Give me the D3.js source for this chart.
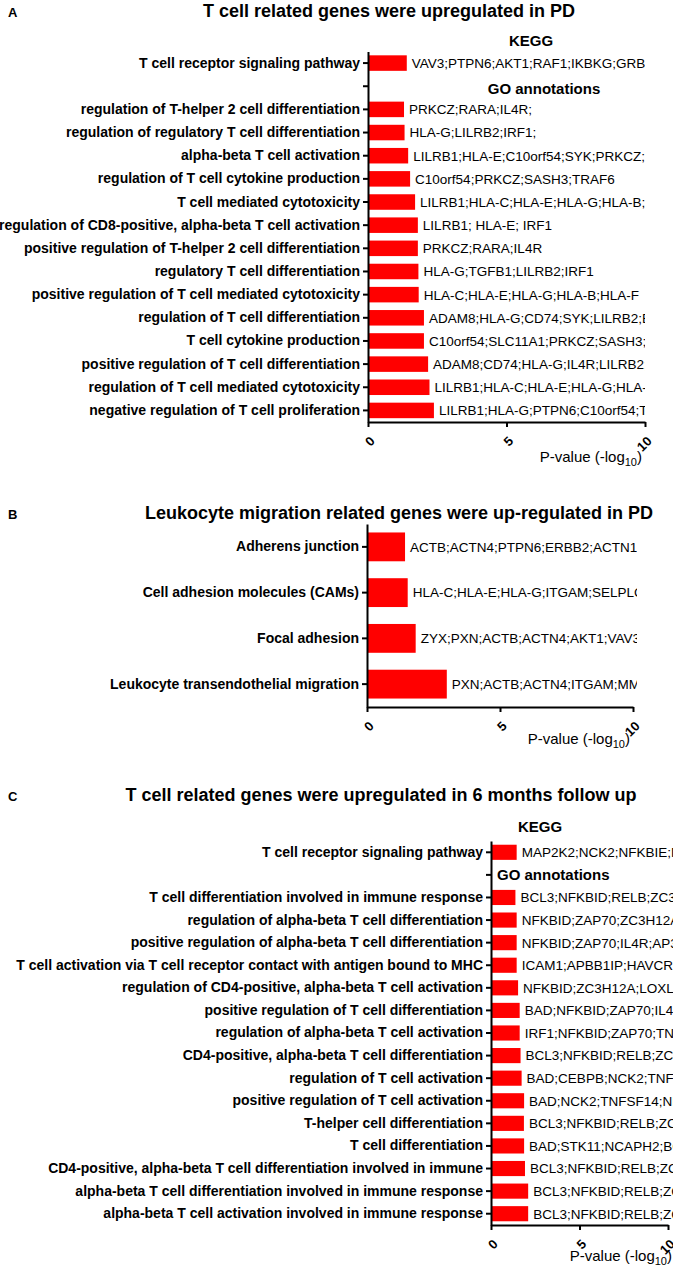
<!DOCTYPE html>
<html>
<head>
<meta charset="utf-8">
<script src="https://cdn.jsdelivr.net/npm/d3@7"></script>
<style>
  body { margin: 0; background: #fff; }
  svg text { font-family: "Liberation Sans", Arial, sans-serif; fill: #000; }
  .axis path, .axis line { stroke: #000; stroke-width: 2; }
  .axis text { font-size: 14px; font-weight: bold; }
</style>
</head>
<body>
<div id="chart"></div>
<script>
// ---- data ----
var titleA = "T cell related genes were upregulated in PD";
var termsA = [
  "T cell receptor signaling pathway",
  "",
  "regulation of T-helper 2 cell differentiation",
  "regulation of regulatory T cell differentiation",
  "alpha-beta T cell activation",
  "regulation of T cell cytokine production",
  "T cell mediated cytotoxicity",
  "regulation of CD8-positive, alpha-beta T cell activation",
  "positive regulation of T-helper 2 cell differentiation",
  "regulatory T cell differentiation",
  "positive regulation of T cell mediated cytotoxicity",
  "regulation of T cell differentiation",
  "T cell cytokine production",
  "positive regulation of T cell differentiation",
  "regulation of T cell mediated cytotoxicity",
  "negative regulation of T cell proliferation"
];
var valuesA = [1.40, null, 1.30, 1.32, 1.45, 1.52, 1.70, 1.80, 1.80, 1.82, 1.83, 2.02, 2.02, 2.17, 2.22, 2.38];
var genesA = [
  "VAV3;PTPN6;AKT1;RAF1;IKBKG;GRB2",
  "",
  "PRKCZ;RARA;IL4R;",
  "HLA-G;LILRB2;IRF1;",
  "LILRB1;HLA-E;C10orf54;SYK;PRKCZ;S",
  "C10orf54;PRKCZ;SASH3;TRAF6",
  "LILRB1;HLA-C;HLA-E;HLA-G;HLA-B;H",
  "LILRB1; HLA-E; IRF1",
  "PRKCZ;RARA;IL4R",
  "HLA-G;TGFB1;LILRB2;IRF1",
  "HLA-C;HLA-E;HLA-G;HLA-B;HLA-F",
  "ADAM8;HLA-G;CD74;SYK;LILRB2;E",
  "C10orf54;SLC11A1;PRKCZ;SASH3;T",
  "ADAM8;CD74;HLA-G;IL4R;LILRB2;I",
  "LILRB1;HLA-C;HLA-E;HLA-G;HLA-B",
  "LILRB1;HLA-G;PTPN6;C10orf54;TG"
];

var titleB = "Leukocyte migration related genes were up-regulated in PD";
var termsB = [
  "Adherens junction",
  "Cell adhesion molecules (CAMs)",
  "Focal adhesion",
  "Leukocyte transendothelial migration"
];
var valuesB = [1.43, 1.53, 1.83, 3.0];
var genesB = [
  "ACTB;ACTN4;PTPN6;ERBB2;ACTN1;I",
  "HLA-C;HLA-E;HLA-G;ITGAM;SELPLG;H",
  "ZYX;PXN;ACTB;ACTN4;AKT1;VAV3;I",
  "PXN;ACTB;ACTN4;ITGAM;MMP9"
];

var titleC = "T cell related genes were upregulated in 6 months follow up";
var termsC = [
  "T cell receptor signaling pathway",
  "",
  "T cell differentiation involved in immune response",
  "regulation of alpha-beta T cell differentiation",
  "positive regulation of alpha-beta T cell differentiation",
  "T cell activation via T cell receptor contact with antigen bound to MHC",
  "regulation of CD4-positive, alpha-beta T cell activation",
  "positive regulation of T cell differentiation",
  "regulation of alpha-beta T cell activation",
  "CD4-positive, alpha-beta T cell differentiation",
  "regulation of T cell activation",
  "positive regulation of T cell activation",
  "T-helper cell differentiation",
  "T cell differentiation",
  "CD4-positive, alpha-beta T cell differentiation involved in immune",
  "alpha-beta T cell differentiation involved in immune response",
  "alpha-beta T cell activation involved in immune response"
];
var valuesC = [1.45, null, 1.38, 1.45, 1.45, 1.45, 1.53, 1.62, 1.62, 1.67, 1.73, 1.87, 1.86, 1.87, 1.92, 2.10, 2.10];
var genesC = [
  "MAP2K2;NCK2;NFKBIE;M",
  "",
  "BCL3;NFKBID;RELB;ZC3H12A",
  "NFKBID;ZAP70;ZC3H12A",
  "NFKBID;ZAP70;IL4R;AP3",
  "ICAM1;APBB1IP;HAVCR2",
  "NFKBID;ZC3H12A;LOXL3",
  "BAD;NFKBID;ZAP70;IL4R",
  "IRF1;NFKBID;ZAP70;TNF",
  "BCL3;NFKBID;RELB;ZC",
  "BAD;CEBPB;NCK2;TNF",
  "BAD;NCK2;TNFSF14;NF",
  "BCL3;NFKBID;RELB;ZC",
  "BAD;STK11;NCAPH2;BC",
  "BCL3;NFKBID;RELB;ZC",
  "BCL3;NFKBID;RELB;ZC",
  "BCL3;NFKBID;RELB;ZC"
];

var xTicks = [0, 5, 10];
var xDomain = [0, 10];

// ---- drawing ----
var svg = d3.select("#chart").append("svg")
  .attr("width", 673)
  .attr("height", 1265);

function panel(p) {
  var g = svg.append("g");

  var x = d3.scaleLinear().domain(xDomain).range([p.x0, p.x1]);
  var y = d3.scaleBand().domain(p.terms).range([p.y0, p.y1])
    .paddingInner(p.pad).paddingOuter(p.pad / 2);

  // letter + title
  g.append("text").attr("x", 8).attr("y", p.titleY)
    .style("font-size", "13px").style("font-weight", "bold").text(p.letter);
  g.append("text").attr("x", p.titleX).attr("y", p.titleY)
    .attr("text-anchor", "middle")
    .style("font-size", "18px").style("font-weight", "bold").text(p.title);

  var rows = p.terms.map(function(t, i) {
    return { term: t, value: p.values[i], genes: p.genes[i] };
  }).filter(function(d) { return d.value != null; });

  g.selectAll(".bar")
    .data(rows)
    .enter().append("rect")
    .attr("class", "bar")
    .attr("x", x(0))
    .attr("y", function(d) { return y(d.term); })
    .attr("width", function(d) { return x(d.value) - x(0); })
    .attr("height", y.bandwidth())
    .attr("fill", "#ff0000");

  // gene lists, cut off at the right edge of the plot like the original
  g.append("clipPath").attr("id", "clip" + p.letter)
    .append("rect")
    .attr("x", x(0)).attr("y", p.y0 - 20)
    .attr("width", p.clipRight - x(0)).attr("height", p.y1 - p.y0 + 40);

  g.append("g").attr("clip-path", "url(#clip" + p.letter + ")")
    .selectAll("text")
    .data(rows)
    .enter().append("text")
    .attr("x", function(d) { return x(d.value) + 5; })
    .attr("y", function(d) { return y(d.term) + y.bandwidth() / 2; })
    .attr("dy", "0.36em")
    .style("font-size", "13.5px")
    .text(function(d) { return d.genes; });

  // axes
  g.append("g")
    .attr("class", "axis")
    .attr("transform", "translate(" + x(0) + ",0)")
    .call(d3.axisLeft(y).tickSize(5).tickSizeOuter(0).tickPadding(3));

  var xa = g.append("g")
    .attr("class", "axis")
    .attr("transform", "translate(0," + p.y1 + ")")
    .call(d3.axisBottom(x).tickValues(xTicks).tickSize(5).tickSizeOuter(0));
  xa.selectAll("text")
    .attr("x", 0).attr("y", 0).attr("dy", 0)
    .attr("text-anchor", "end")
    .attr("transform", "translate(7,20) rotate(-45)")
    .style("font-size", "13px");

  // axis title
  var lab = g.append("text")
    .attr("x", x(10) + p.labDx)
    .attr("y", p.y1 + p.labDy)
    .attr("text-anchor", "end")
    .style("font-size", "15px");
  lab.append("tspan").text("P-value (-log");
  lab.append("tspan").attr("dy", 4).style("font-size", "11px").text("10");
  lab.append("tspan").attr("dy", -4).text(")");

  // KEGG / GO headers
  if (p.kegg) {
    g.append("text")
      .attr("x", p.kegg[0]).attr("y", y(p.terms[0]) + p.kegg[1])
      .attr("text-anchor", "middle")
      .style("font-size", "15px").style("font-weight", "bold").text("KEGG");
    g.append("text")
      .attr("x", p.go[0]).attr("y", y("") + y.bandwidth() / 2 + p.go[1])
      .attr("text-anchor", p.go[2])
      .style("font-size", "15px").style("font-weight", "bold").text("GO annotations");
  }
}

panel({ letter: "A", title: titleA, terms: termsA, values: valuesA, genes: genesA,
  titleX: 389, titleY: 17, x0: 368, x1: 645, y0: 51.5, y1: 422, pad: 0.33,
  clipRight: 645, labDx: -3, labDy: 40, kegg: [531, -9], go: [544, 8, "middle"] });

panel({ letter: "B", title: titleB, terms: termsB, values: valuesB, genes: genesB,
  titleX: 399, titleY: 519, x0: 367, x1: 633, y0: 524, y1: 707, pad: 0.37,
  clipRight: 637, labDx: -3, labDy: 37 });

panel({ letter: "C", title: titleC, terms: termsC, values: valuesC, genes: genesC,
  titleX: 381, titleY: 801, x0: 491, x1: 668, y0: 841, y1: 1225, pad: 0.33,
  clipRight: 673, labDx: 4, labDy: 36, kegg: [540, -13], go: [497, 5, "start"] });
</script>
</body>
</html>
